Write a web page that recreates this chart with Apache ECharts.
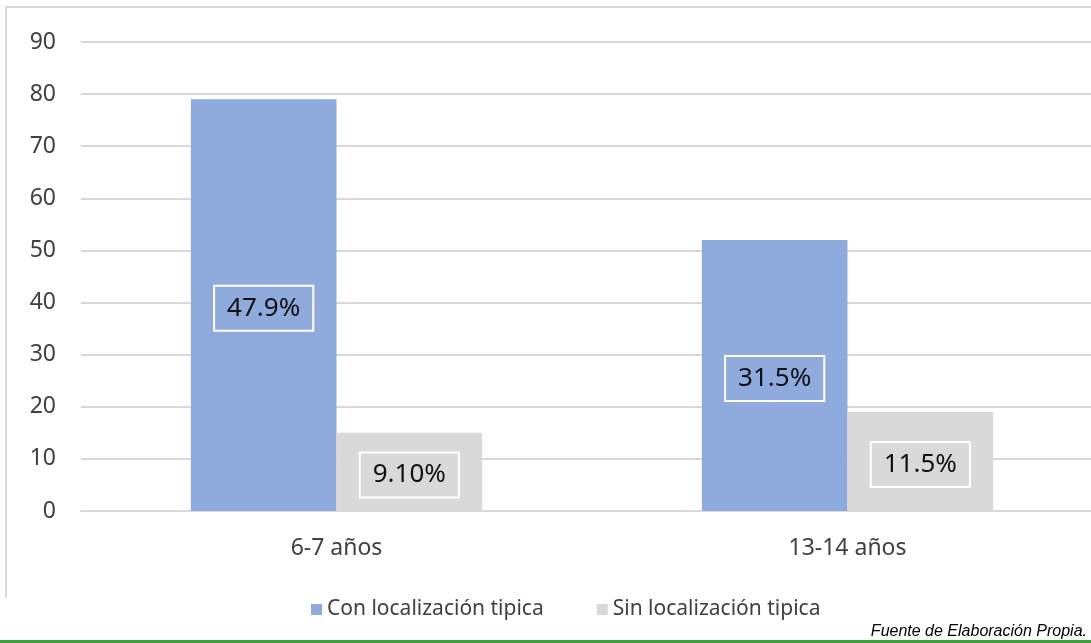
<!DOCTYPE html>
<html>
<head>
<meta charset="utf-8">
<script src="https://cdn.jsdelivr.net/npm/echarts@6/dist/echarts.min.js"></script>
<style>
  html, body { margin: 0; padding: 0; background: #fff; }
  #chart { width: 1091px; height: 643px; }
</style>
</head>
<body>
<div id="chart"></div>
<script>
var categories = ['6-7 años', '13-14 años'];
var seriesNames = ['Con localización tipica', 'Sin localización tipica'];
var conValues = [79, 52];
var sinValues = [15, 19];
var conLabels = ['47.9%', '31.5%'];
var sinLabels = ['9.10%', '11.5%'];

var font = 'Noto Sans';

function boxLabel(texts) {
    return {
        show: true,
        position: 'inside',
        offset: [0, 3],
        formatter: function (p) { return texts[p.dataIndex]; },
        fontFamily: font,
        fontSize: 26,
        color: '#111',
        borderColor: '#fff',
        borderWidth: 2,
        padding: [11, 13, 8, 13]
    };
}

var chart = echarts.init(document.getElementById('chart'));
chart.setOption({
    animation: false,
    backgroundColor: '#fff',
    grid: { left: 81, width: 1022, top: 42, bottom: 132, outerBoundsMode: 'none' },
    legend: {
        data: seriesNames,
        left: 306,
        top: 594,
        itemWidth: 11,
        itemHeight: 11,
        itemGap: 53,
        icon: 'rect',
        textStyle: { fontFamily: font, fontSize: 21, color: '#404040' }
    },
    xAxis: {
        type: 'category',
        data: categories,
        axisLine: { lineStyle: { color: '#d9d9d9', width: 2 } },
        axisTick: { show: false },
        axisLabel: { fontFamily: font, fontSize: 23, color: '#404040', margin: 26 }
    },
    yAxis: {
        type: 'value',
        min: 0,
        max: 90,
        interval: 10,
        axisLine: { show: false },
        axisTick: { show: false },
        axisLabel: { fontFamily: font, fontSize: 23, color: '#404040', margin: 25 },
        splitLine: { lineStyle: { color: '#d9d9d9', width: 2 } }
    },
    series: [
        {
            name: seriesNames[0],
            type: 'bar',
            data: conValues,
            barGap: '0%',
            barCategoryGap: '43%',
            itemStyle: { color: '#8faadc' },
            label: boxLabel(conLabels)
        },
        {
            name: seriesNames[1],
            type: 'bar',
            data: sinValues,
            itemStyle: { color: '#d9d9d9' },
            label: boxLabel(sinLabels)
        }
    ],
    graphic: [
        {
            type: 'polyline',
            shape: { points: [[6, 598], [6, 7], [1091, 7]] },
            style: { stroke: '#d9d9d9', lineWidth: 2, fill: null },
            silent: true
        },
        {
            type: 'text',
            right: 4,
            top: 624,
            style: {
                text: 'Fuente de Elaboración Propia.',
                font: 'italic 16px "Liberation Sans", Arial, sans-serif',
                fill: '#000'
            }
        },
        {
            type: 'rect',
            shape: { x: 0, y: 640, width: 1091, height: 3 },
            style: { fill: '#3aa335' },
            silent: true
        }
    ]
});
</script>
</body>
</html>
